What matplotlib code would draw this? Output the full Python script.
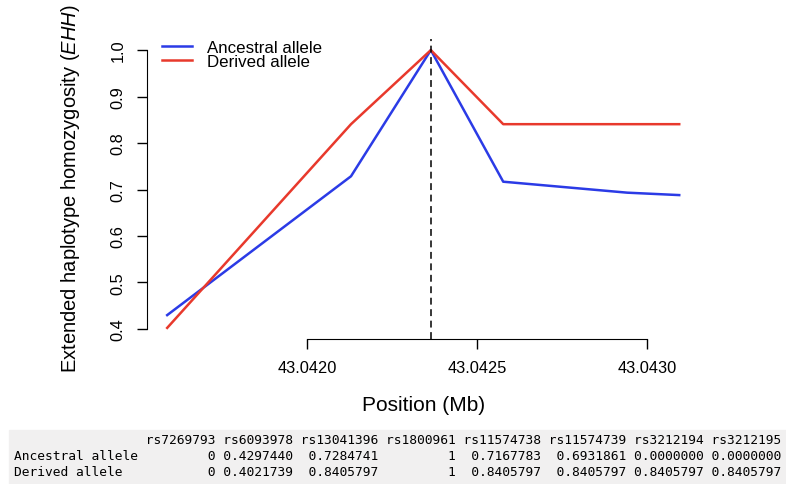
import matplotlib
matplotlib.use('Agg')
import matplotlib.pyplot as plt
from matplotlib.patches import Rectangle

# positions (Mb) of the SNPs drawn on the plot
positions = [43.041588, 43.042129, 43.042364, 43.042577, 43.042942, 43.043095]
ehh_ancestral = [0.4297, 0.7285, 1.0, 0.7168, 0.6932, 0.688]
ehh_derived = [0.4022, 0.8406, 1.0, 0.8406, 0.8406, 0.8406]
core_idx = 2

x_ticks = [43.0420, 43.0425, 43.0430]
x_tick_labels = ['43.0420', '43.0425', '43.0430']
y_ticks = [0.4, 0.5, 0.6, 0.7, 0.8, 0.9, 1.0]
y_tick_labels = ['0.4', '0.5', '0.6', '0.7', '0.8', '0.9', '1.0']

# console table printed under the plot
snp_names = ['rs7269793', 'rs6093978', 'rs13041396', 'rs1800961',
             'rs11574738', 'rs11574739', 'rs3212194', 'rs3212195']
row_names = ['Ancestral allele', 'Derived allele']
table_ancestral = [0, 0.4297440, 0.7284741, 1, 0.7167783, 0.6931861, 0.0, 0.0]
table_derived = [0, 0.4021739, 0.8405797, 1, 0.8405797, 0.8405797, 0.8405797, 0.8405797]

plt.rcParams['font.family'] = ['Liberation Sans', 'DejaVu Sans']
plt.rcParams['mathtext.fontset'] = 'custom'
plt.rcParams['mathtext.rm'] = 'Liberation Sans'
plt.rcParams['mathtext.it'] = 'Liberation Sans:italic'

W, H = 786, 485
fig = plt.figure(figsize=(W / 100, H / 100), dpi=100)
left, right, top, bottom = 146.7, 699.7, 40, 340
ax = fig.add_axes([left / W, 1 - bottom / H, (right - left) / W, (bottom - top) / H])

ax.plot(positions, ehh_ancestral, color='#2b3be6', lw=1.8, label='Ancestral allele')
ax.plot(positions, ehh_derived, color='#e8392c', lw=1.8, label='Derived allele')
ax.margins(x=0.04, y=0.04)
ax.axvline(positions[core_idx], color='black', lw=1.1, linestyle=(0, (4.5, 3)))

for side in ['top', 'right']:
    ax.spines[side].set_visible(False)
ax.spines['left'].set_bounds(y_ticks[0], y_ticks[-1])
ax.spines['bottom'].set_bounds(x_ticks[0], x_ticks[-1])
ax.set_xticks(x_ticks)
ax.set_xticklabels(x_tick_labels)
ax.set_yticks(y_ticks)
ax.set_yticklabels(y_tick_labels, rotation=90, va='center')
ax.tick_params(axis='both', length=7, width=1, labelsize=11.8, pad=8)

ax.set_xlabel('Position (Mb)', fontsize=15, va='center')
ax.xaxis.set_label_coords(0.5, -0.217)
ax.set_ylabel('Extended haplotype homozygosity ($\\mathit{EHH}$)', fontsize=14.5, va='center')
ax.yaxis.set_label_coords(-0.138, 0.506)

ax.legend(loc='upper left', bbox_to_anchor=(0.027, 0.997), frameon=False,
          fontsize=12.2, handlelength=1.8, handletextpad=0.9, labelspacing=-0.06,
          borderpad=0, borderaxespad=0)

# R style matrix print
def fmt_col(vals):
    if all(isinstance(v, int) for v in vals):
        return ['%d' % v for v in vals]
    return ['%.7f' % v for v in vals]

name_w = max(len(r) for r in row_names)
header = ' ' * name_w
lines = [r.ljust(name_w) for r in row_names]
for i, name in enumerate(snp_names):
    cells = fmt_col([table_ancestral[i], table_derived[i]])
    w = max(len(name), max(len(c) for c in cells))
    header += ' ' + name.rjust(w)
    for k in range(len(lines)):
        lines[k] += ' ' + cells[k].rjust(w)

fig.patches.append(Rectangle((9 / W, 0), 1 - 9 / W, (H - 431) / H,
                             transform=fig.transFigure, color='#f1f0f0', zorder=0))
for txt, yy in zip([header] + lines, [441, 457, 473]):
    fig.text(14 / W, 1 - yy / H, txt, family='DejaVu Sans Mono', fontsize=9.3,
             va='center', ha='left', color='black')

fig.savefig('out.png', dpi=100)
